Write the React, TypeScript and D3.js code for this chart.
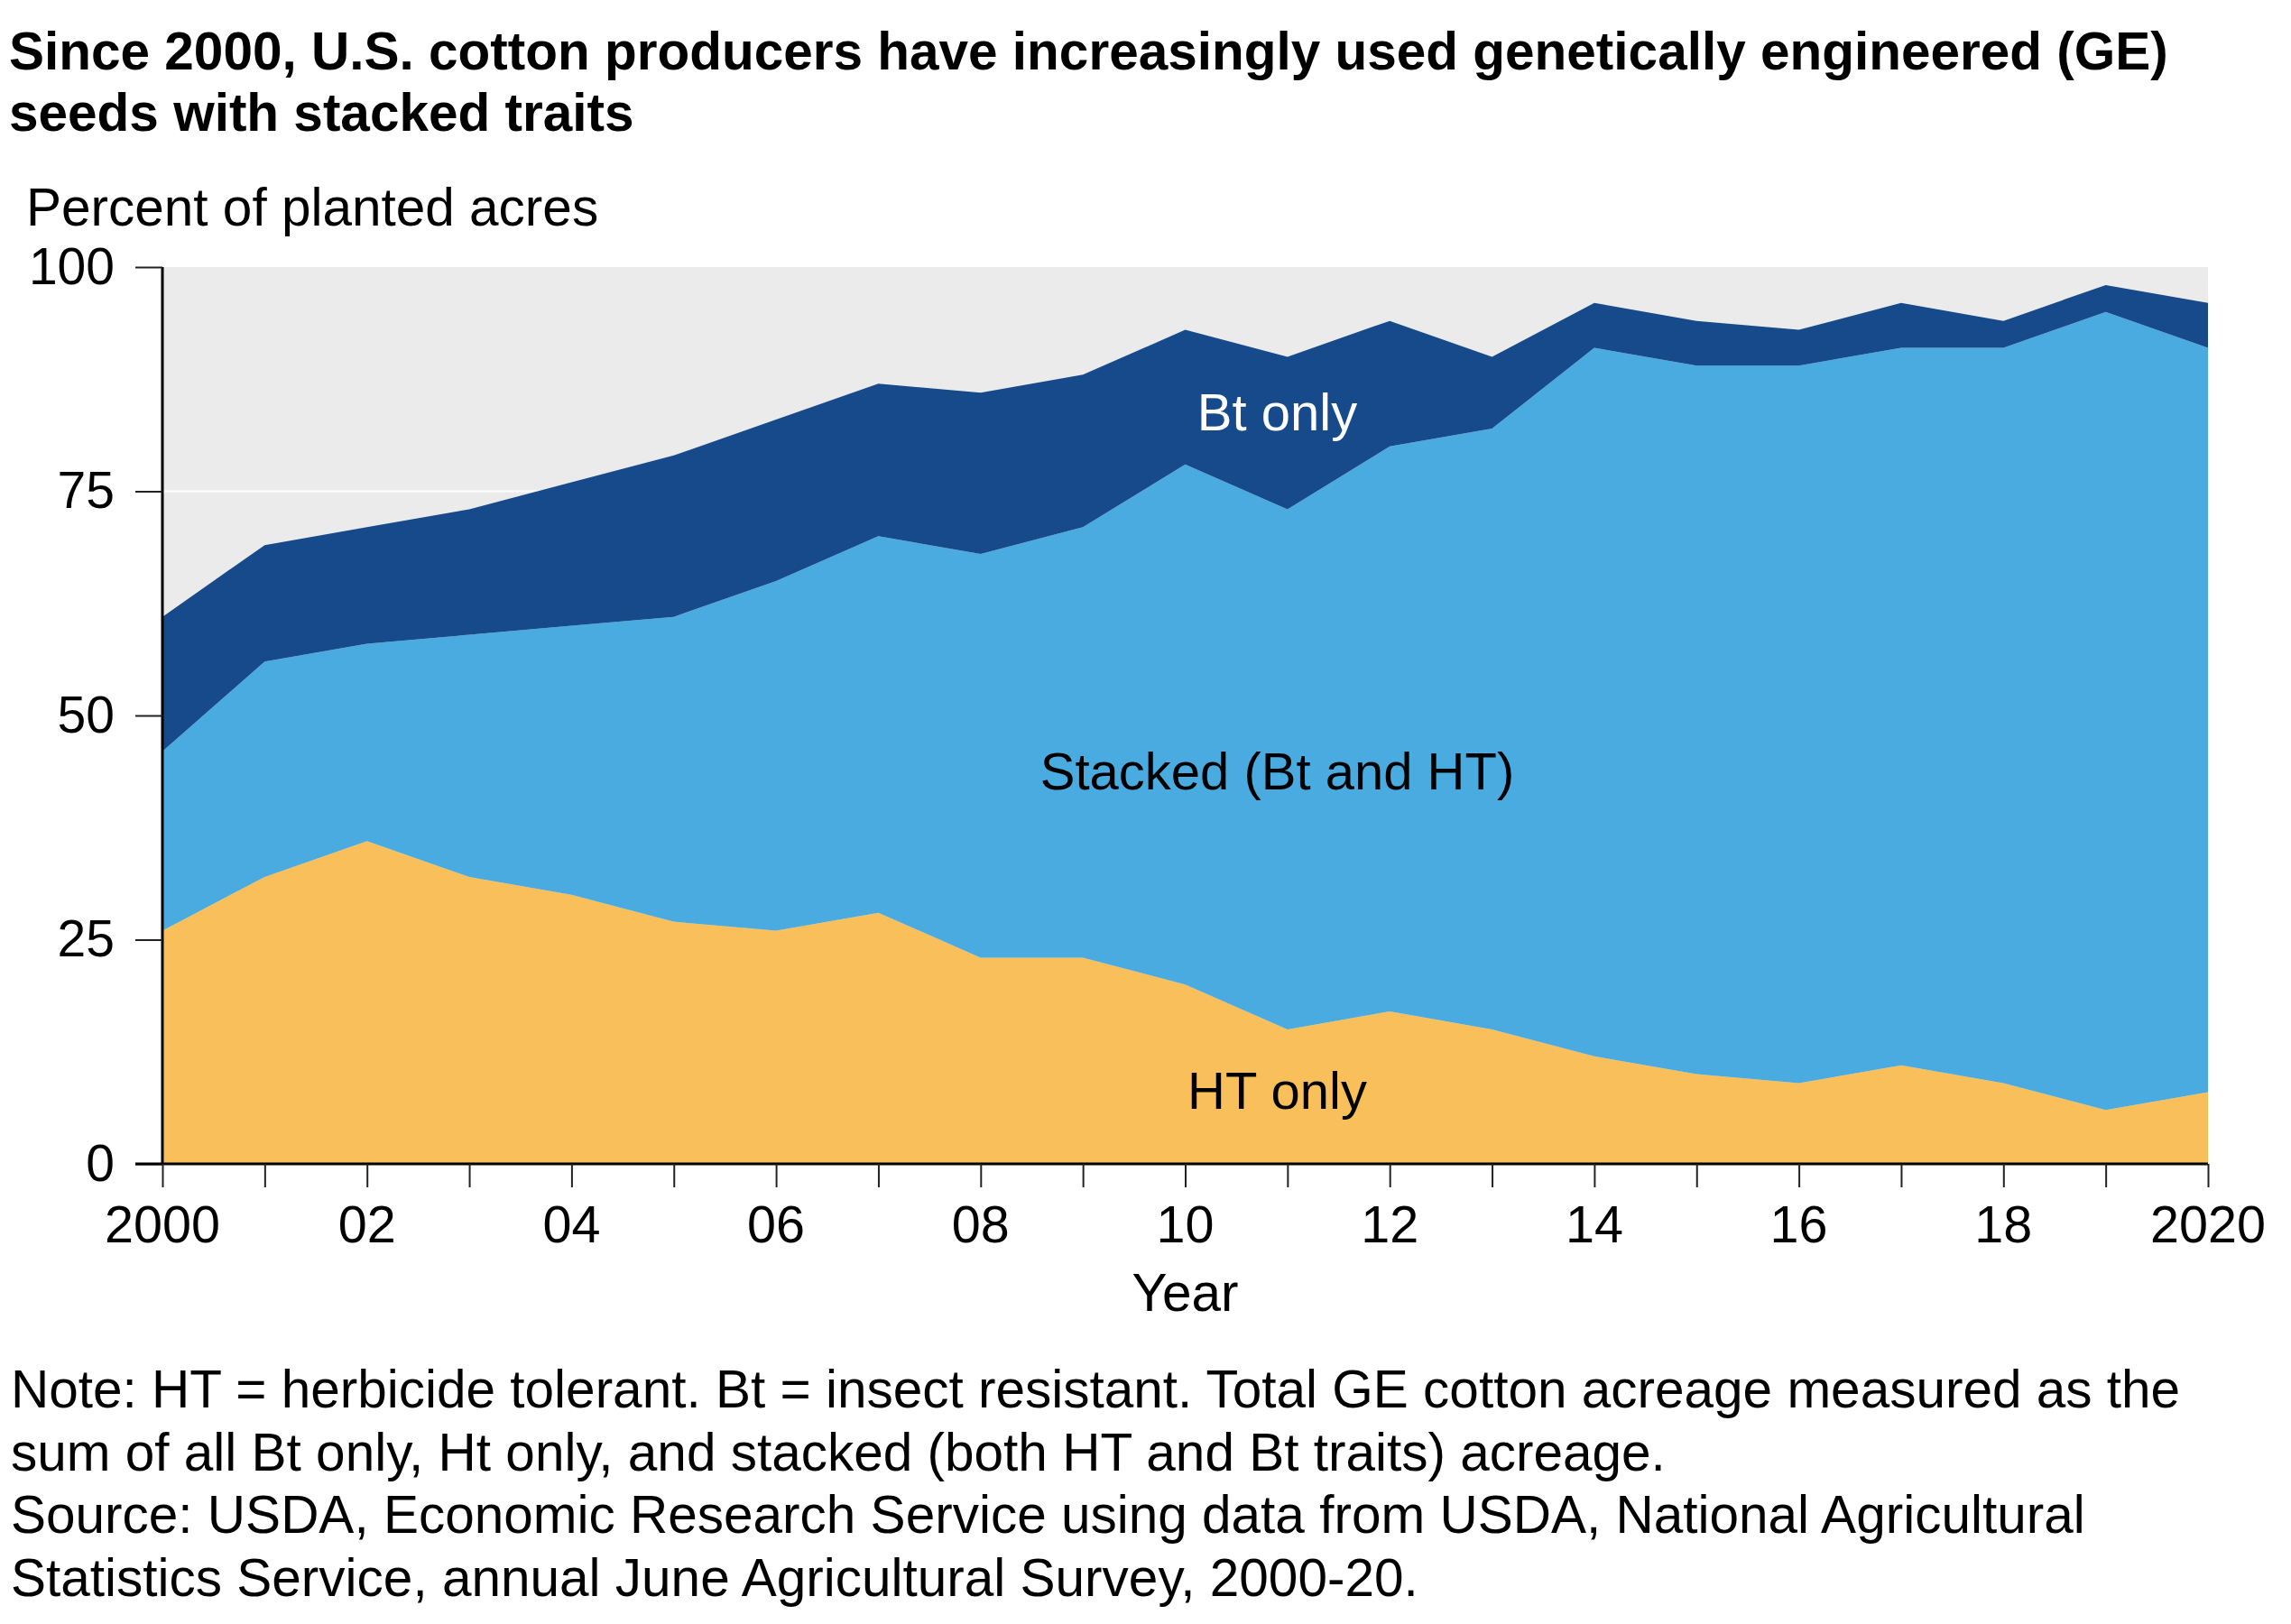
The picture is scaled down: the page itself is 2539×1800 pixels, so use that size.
import React, { useRef, useEffect } from "react";
import * as d3 from "d3";

const years = [
  2000, 2001, 2002, 2003, 2004, 2005, 2006, 2007, 2008, 2009, 2010, 2011, 2012,
  2013, 2014, 2015, 2016, 2017, 2018, 2019, 2020,
];
const htOnly = [26, 32, 36, 32, 30, 27, 26, 28, 23, 23, 20, 15, 17, 15, 12, 10, 9, 11, 9, 6, 8];
const stackedTraits = [20, 24, 22, 27, 30, 34, 39, 42, 45, 48, 58, 58, 63, 67, 79, 79, 80, 80, 82, 89, 83];
const btOnly = [15, 13, 13, 14, 16, 18, 18, 17, 18, 17, 15, 17, 14, 8, 5, 5, 4, 5, 3, 3, 5];

const yTicks = [0, 25, 50, 75, 100];
const xTickLabels = ["2000", "02", "04", "06", "08", "10", "12", "14", "16", "18", "2020"];

const titleLines = [
  "Since 2000, U.S. cotton producers have increasingly used genetically engineered (GE)",
  "seeds with stacked traits",
];
const noteLines = [
  "Note: HT = herbicide tolerant. Bt = insect resistant. Total GE cotton acreage measured as the",
  "sum of all Bt only, Ht only, and stacked (both HT and Bt traits) acreage.",
  "Source: USDA, Economic Research Service using data from USDA, National Agricultural",
  "Statistics Service, annual June Agricultural Survey, 2000-20.",
];

const keys = ["ht", "stacked", "bt"];
const colors: Record<string, string> = {
  ht: "#f9bf5a",
  stacked: "#49abdf",
  bt: "#174a8b",
};

const WIDTH = 2539;
const HEIGHT = 1800;
const margin = { top: 296, right: 92, bottom: 510, left: 180 };
const FONT = "'Liberation Sans', Arial, Helvetica, sans-serif";

const App: React.FC = () => {
  const svgRef = useRef<SVGSVGElement>(null);

  useEffect(() => {
    if (!svgRef.current) return;
    const svg = d3.select(svgRef.current);
    svg.selectAll("*").remove();

    const chartWidth = WIDTH - margin.left - margin.right;
    const chartHeight = HEIGHT - margin.top - margin.bottom;

    const rows = years.map((year, i) => ({
      year,
      ht: htOnly[i],
      stacked: stackedTraits[i],
      bt: btOnly[i],
    }));

    const series = d3.stack<any>().keys(keys)(rows);

    const xScale = d3
      .scaleLinear()
      .domain([years[0], years[years.length - 1]])
      .range([0, chartWidth]);

    const yScale = d3.scaleLinear().domain([0, 100]).range([chartHeight, 0]);

    // title
    svg
      .append("g")
      .selectAll("text")
      .data(titleLines)
      .join("text")
      .attr("x", 10)
      .attr("y", (d, i) => 77 + i * 68)
      .attr("font-family", FONT)
      .attr("font-weight", "bold")
      .attr("font-size", 58.5)
      .text((d) => d);

    svg
      .append("text")
      .attr("x", 29)
      .attr("y", 250)
      .attr("font-family", FONT)
      .attr("font-size", 58.5)
      .text("Percent of planted acres");

    const g = svg
      .append("g")
      .attr("transform", `translate(${margin.left},${margin.top})`);

    g.append("rect")
      .attr("width", chartWidth)
      .attr("height", chartHeight)
      .attr("fill", "#ebebeb");

    g.append("g")
      .selectAll("line")
      .data(yTicks.filter((t) => t > 0 && t < 100))
      .join("line")
      .attr("x1", 0)
      .attr("x2", chartWidth)
      .attr("y1", (d) => yScale(d))
      .attr("y2", (d) => yScale(d))
      .attr("stroke", "#ffffff")
      .attr("stroke-width", 2);

    const area = d3
      .area<any>()
      .x((d) => xScale(d.data.year))
      .y0((d) => yScale(d[0]))
      .y1((d) => yScale(d[1]));

    g.append("g")
      .selectAll("path")
      .data(series)
      .join("path")
      .attr("fill", (d) => colors[d.key])
      .attr("d", area);

    // y axis
    const yAxis = d3
      .axisLeft(yScale)
      .tickValues(yTicks)
      .tickSize(30)
      .tickPadding(23)
      .tickFormat(d3.format("d"));

    const yAxisG = g.append("g").call(yAxis);
    yAxisG
      .select(".domain")
      .attr("stroke", "#000")
      .attr("stroke-width", 3)
      .attr("d", `M0,0V${chartHeight}`);
    yAxisG.selectAll(".tick line").attr("stroke", "#222").attr("stroke-width", 2);
    yAxisG
      .selectAll(".tick text")
      .attr("font-family", FONT)
      .attr("font-size", 57)
      .attr("fill", "#000");

    // x axis
    const xAxis = d3
      .axisBottom(xScale)
      .tickValues(years)
      .tickSize(26)
      .tickPadding(0)
      .tickFormat(() => "");

    const xAxisG = g
      .append("g")
      .attr("transform", `translate(0,${chartHeight})`)
      .call(xAxis);
    xAxisG
      .select(".domain")
      .attr("stroke", "#000")
      .attr("stroke-width", 3)
      .attr("d", `M-30,0H${chartWidth}`);
    xAxisG.selectAll(".tick line").attr("stroke", "#222").attr("stroke-width", 2);

    g.append("g")
      .selectAll("text")
      .data(years.filter((y, i) => i % 2 === 0))
      .join("text")
      .attr("x", (d) => xScale(d))
      .attr("y", chartHeight + 87)
      .attr("text-anchor", "middle")
      .attr("font-family", FONT)
      .attr("font-size", 57.5)
      .text((d, i) => xTickLabels[i]);

    g.append("text")
      .attr("x", chartWidth / 2)
      .attr("y", chartHeight + 163)
      .attr("text-anchor", "middle")
      .attr("font-family", FONT)
      .attr("font-size", 58.5)
      .text("Year");

    // series labels
    const labelX = xScale(2010.9);
    const labels = [
      { text: "Bt only", y: 477, color: "#ffffff" },
      { text: "Stacked (Bt and HT)", y: 875, color: "#000000" },
      { text: "HT only", y: 1229, color: "#000000" },
    ];
    svg
      .append("g")
      .selectAll("text")
      .data(labels)
      .join("text")
      .attr("x", margin.left + labelX)
      .attr("y", (d) => d.y)
      .attr("text-anchor", "middle")
      .attr("font-family", FONT)
      .attr("font-size", 58)
      .attr("fill", (d) => d.color)
      .text((d) => d.text);

    // notes
    svg
      .append("g")
      .selectAll("text")
      .data(noteLines)
      .join("text")
      .attr("x", 12)
      .attr("y", (d, i) => 1560 + i * 69.5)
      .attr("font-family", FONT)
      .attr("font-size", 58.5)
      .text((d) => d);
  }, []);

  return (
    <div>
      <style>{`body{margin:0;}`}</style>
      <svg ref={svgRef} width={WIDTH} height={HEIGHT} style={{ display: "block" }} />
    </div>
  );
};

export default App;
